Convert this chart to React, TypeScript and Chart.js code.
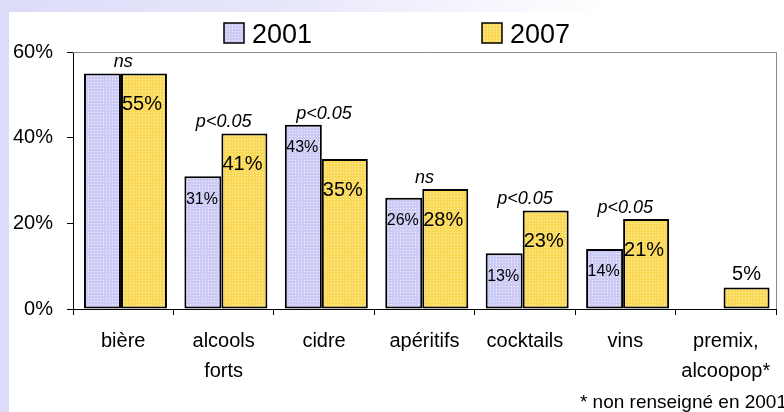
import React, { useEffect, useRef } from 'react';
import { Chart, registerables } from 'chart.js';

Chart.register(...registerables);

const categories: string[][] = [
  ['bière'],
  ['alcools', 'forts'],
  ['cidre'],
  ['apéritifs'],
  ['cocktails'],
  ['vins'],
  ['premix,', 'alcoopop*'],
];
const seriesNames = ['2001', '2007'];
const values2001: (number | null)[] = [55, 31, 43, 26, 13, 14, null];
const values2007: (number | null)[] = [55, 41, 35, 28, 23, 21, 5];
// data labels as printed on the original (the 2001 bière bar carries none)
const labels2001 = ['', '31%', '43%', '26%', '13%', '14%', ''];
const labels2007 = ['55%', '41%', '35%', '28%', '23%', '21%', '5%'];
const significance = ['ns', 'p<0.05', 'p<0.05', 'ns', 'p<0.05', 'p<0.05', ''];
const yMax = 60;
const yStep = 20;
const footnote = '* non renseigné en 2001';

const FONT = '"Liberation Sans", Arial, Helvetica, sans-serif';

function makePattern(ctx: CanvasRenderingContext2D, base: string, dot: string) {
  const c = document.createElement('canvas');
  c.width = 3;
  c.height = 3;
  const g = c.getContext('2d')!;
  g.fillStyle = base;
  g.fillRect(0, 0, 3, 3);
  g.fillStyle = dot;
  g.fillRect(1, 1, 1, 1);
  return ctx.createPattern(c, 'repeat')!;
}

export default function App() {
  const canvasRef = useRef<HTMLCanvasElement | null>(null);

  useEffect(() => {
    const canvas = canvasRef.current!;
    const ctx = canvas.getContext('2d')!;
    const fill2001 = makePattern(ctx, '#cbcbf6', '#f0f0ff');
    const fill2007 = makePattern(ctx, '#fad858', '#fff1b0');

    const labelPlugin = {
      id: 'barLabels',
      afterDatasetsDraw(chart: any) {
        const c = chart.ctx as CanvasRenderingContext2D;
        const m0 = chart.getDatasetMeta(0);
        const m1 = chart.getDatasetMeta(1);
        c.save();
        c.fillStyle = '#000';
        c.textAlign = 'center';
        c.textBaseline = 'middle';
        m0.data.forEach((el: any, i: number) => {
          const t = labels2001[i];
          if (values2001[i] == null || !t) return;
          c.font = `16px ${FONT}`;
          c.fillText(t, el.x - 1, el.y + 23);
        });
        m1.data.forEach((el: any, i: number) => {
          const t = labels2007[i];
          if (values2007[i] == null || !t) return;
          c.font = `20px ${FONT}`;
          const h = el.base - el.y;
          if (h < 40) {
            c.textBaseline = 'alphabetic';
            c.fillText(t, el.x, el.y - 8);
            c.textBaseline = 'middle';
          } else {
            c.fillText(t, el.x - 2, el.y + 31);
          }
        });
        c.font = `italic 18px ${FONT}`;
        c.textBaseline = 'alphabetic';
        significance.forEach((s, i) => {
          if (!s) return;
          const tops: number[] = [];
          if (values2001[i] != null) tops.push(m0.data[i].y);
          if (values2007[i] != null) tops.push(m1.data[i].y);
          const top = Math.min(...tops);
          c.fillText(s, chart.scales.x.getPixelForValue(i), top - 6);
        });
        c.restore();
      },
    };

    const framePlugin = {
      id: 'frameLegend',
      afterDraw(chart: any) {
        const c = chart.ctx as CanvasRenderingContext2D;
        const a = chart.chartArea;
        c.save();
        c.strokeStyle = '#8a8a8a';
        c.lineWidth = 1;
        c.beginPath();
        c.moveTo(a.left, Math.round(a.top) + 0.5);
        c.lineTo(Math.round(a.right) + 0.5, Math.round(a.top) + 0.5);
        c.lineTo(Math.round(a.right) + 0.5, a.bottom);
        c.stroke();

        // legend
        const fills = [fill2001, fill2007];
        const boxX = [224, 482];
        c.font = `27px ${FONT}`;
        c.textBaseline = 'alphabetic';
        c.textAlign = 'left';
        seriesNames.forEach((name, i) => {
          c.fillStyle = fills[i];
          c.fillRect(boxX[i], 23, 20, 20);
          c.strokeStyle = '#000';
          c.lineWidth = 1.5;
          c.strokeRect(boxX[i], 23, 20, 20);
          c.fillStyle = '#000';
          c.fillText(name, boxX[i] + 28, 43);
        });

        // footnote
        c.font = `19px ${FONT}`;
        c.textAlign = 'right';
        c.fillText(footnote, 787, 408);
        c.restore();
      },
    };

    const chart = new Chart(canvas, {
      type: 'bar',
      data: {
        labels: categories,
        datasets: [
          {
            label: seriesNames[0],
            data: values2001,
            backgroundColor: fill2001,
            borderColor: '#000',
            borderWidth: 2,
            borderSkipped: false,
            categoryPercentage: 0.8265,
            barPercentage: 0.8916,
          },
          {
            label: seriesNames[1],
            data: values2007,
            backgroundColor: fill2007,
            borderColor: '#000',
            borderWidth: 2,
            borderSkipped: false,
            categoryPercentage: 0.8265,
            barPercentage: 1.1084,
          },
        ],
      },
      options: {
        responsive: false,
        animation: false,
        devicePixelRatio: 1,
        layout: { padding: { top: 52, right: 8, left: 0, bottom: 0 } },
        plugins: {
          legend: { display: false },
          tooltip: { enabled: false },
        },
        scales: {
          x: {
            afterFit: (s: any) => {
              s.height = 103;
            },
            grid: {
              drawOnChartArea: false,
              tickLength: 6,
              color: '#000',
              offset: true,
            },
            border: { display: true, color: '#000', width: 1 },
            ticks: {
              color: '#000',
              font: { family: FONT, size: 20, lineHeight: 1.5 },
              padding: 11,
              maxRotation: 0,
              autoSkip: false,
            },
          },
          y: {
            min: 0,
            max: yMax,
            afterFit: (s: any) => {
              s.width = 73;
            },
            grid: {
              drawOnChartArea: false,
              tickLength: 6,
              color: '#000',
            },
            border: { display: true, color: '#000', width: 1 },
            ticks: {
              stepSize: yStep,
              color: '#000',
              padding: 14,
              font: { family: FONT, size: 20 },
              callback: (v: any) => v + '%',
            },
          },
        },
      },
      plugins: [labelPlugin, framePlugin],
    });
    return () => chart.destroy();
  }, []);

  return (
    <div
      style={{
        position: 'absolute',
        left: 0,
        top: 0,
        width: 784,
        height: 412,
        overflow: 'hidden',
        background: 'linear-gradient(90deg, #dcdcf9 0%, #e6e6fb 35%, #ffffff 78%)',
      }}
    >
      <div
        style={{
          position: 'absolute',
          left: 9,
          top: 12,
          right: 0,
          bottom: 0,
          background: '#ffffff',
        }}
      />
      <canvas
        ref={canvasRef}
        width={784}
        height={412}
        style={{ position: 'absolute', left: 0, top: 0, width: 784, height: 412 }}
      />
    </div>
  );
}
